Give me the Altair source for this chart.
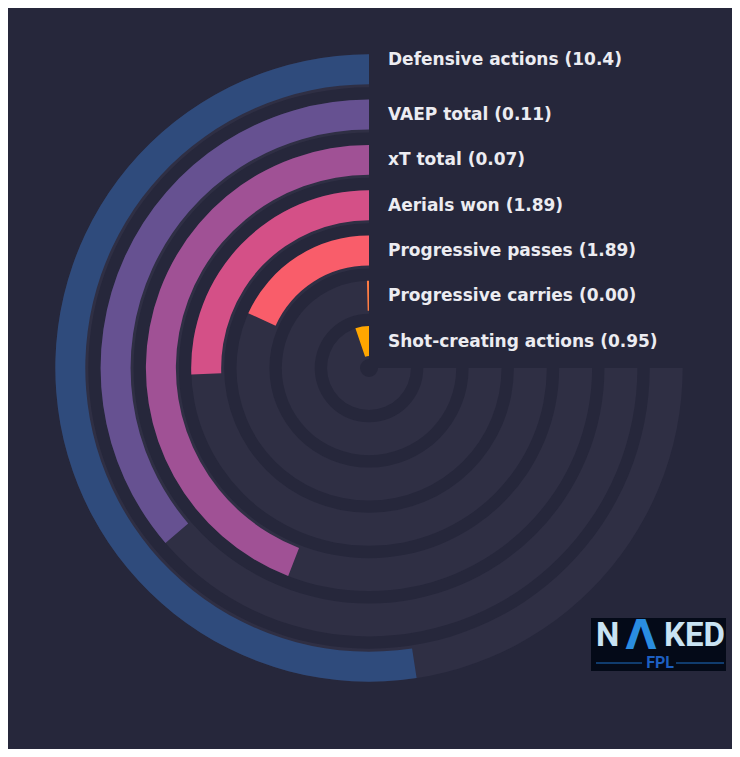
import math

import altair as alt
import pandas as pd

BG = "#26273b"
TRACK = "#2f2f44"
LABEL = "#ececf1"

# rings from the centre outwards
metrics = [
    "Shot-creating actions",
    "Progressive carries",
    "Progressive passes",
    "Aerials won",
    "xT total",
    "VAEP total",
    "Defensive actions",
]
per90 = ["0.95", "0.00", "1.89", "1.89", "0.07", "0.11", "10.4"]
# filled share of the 270 degree track
filled = [0.07, 0.005, 0.243, 0.341, 0.588, 0.484, 0.699]
colors = ["#ffa600", "#ff7c43", "#f95d6a", "#d45087", "#a05195", "#665191", "#2f4b7c"]

df = pd.DataFrame(
    {
        "ring": list(range(len(metrics))),
        "metric": metrics,
        "value": per90,
        "filled": filled,
    }
)
df["text"] = df["metric"] + " (" + df["value"] + ")"

theta_scale = alt.Scale(domain=[0, 1], range=[2 * math.pi, math.pi / 2])
radius_scale = alt.Scale(type="linear", domain=[0, 7], range=[9, 326], zero=False)

# centre of the rings inside the plot area
CX, CY = alt.value(361), alt.value(360)

base = alt.Chart(df).transform_calculate(
    start="0",
    full="1",
    t_in="datum.ring",
    b_in="datum.ring + 0.066",
    r_out="datum.ring + 0.728",
    mid="datum.ring + 0.385",
)

tracks = base.mark_arc(color=TRACK).encode(
    x=CX,
    y=CY,
    theta=alt.Theta("start:Q", scale=theta_scale, stack=None),
    theta2="full:Q",
    radius=alt.Radius("t_in:Q", scale=radius_scale),
    radius2="r_out:Q",
)

bars = base.mark_arc().encode(
    x=CX,
    y=CY,
    theta=alt.Theta("start:Q", scale=theta_scale, stack=None),
    theta2="filled:Q",
    radius=alt.Radius("b_in:Q", scale=radius_scale),
    radius2="r_out:Q",
    color=alt.Color("metric:N", scale=alt.Scale(domain=metrics, range=colors), legend=None),
)

label_style = dict(
    align="left",
    baseline="middle",
    dx=19,
    font="DejaVu Sans",
    fontWeight="bold",
    fontSize=17,
    color=LABEL,
)
label_enc = dict(
    x=CX,
    y=CY,
    theta=alt.Theta("start:Q", scale=theta_scale, stack=None),
    radius=alt.Radius("mid:Q", scale=radius_scale),
    text="text:N",
)
labels = base.transform_filter("datum.ring < 6").mark_text(**label_style).encode(**label_enc)
top_label = (
    base.transform_filter("datum.ring == 6")
    .mark_text(dy=-10, **label_style)
    .encode(**label_enc)
)

# NAKED FPL badge, bottom right
logo_box = alt.Chart().mark_rect(color="#040a18").encode(
    x=alt.value(583), x2=alt.value(718), y=alt.value(610), y2=alt.value(663)
)
logo_font = dict(font="Roboto", fontWeight="bold", baseline="alphabetic", align="left")
logo_n = alt.Chart().mark_text(text="N", fontSize=33, color="#c9e3f3", **logo_font).encode(
    x=alt.value(588), y=alt.value(638)
)
logo_a = alt.Chart().mark_text(
    text="Λ", fontSize=40, color="#2a8de0", font="DejaVu Sans", fontWeight="bold",
    baseline="alphabetic", align="center",
).encode(x=alt.value(633), y=alt.value(641))
logo_ked = alt.Chart().mark_text(text="KED", fontSize=33, color="#c9e3f3", **logo_font).encode(
    x=alt.value(656), y=alt.value(638)
)
logo_fpl = alt.Chart().mark_text(
    text="FPL", fontSize=16, color="#1d5fc2", font="Roboto", fontWeight="bold", align="center"
).encode(x=alt.value(652), y=alt.value(655))
logo_line_l = alt.Chart().mark_rule(color="#1d6fc4", strokeWidth=1).encode(
    x=alt.value(588), x2=alt.value(634), y=alt.value(655)
)
logo_line_r = alt.Chart().mark_rule(color="#1d6fc4", strokeWidth=1).encode(
    x=alt.value(668), x2=alt.value(716), y=alt.value(655)
)

chart = (
    alt.layer(
        tracks, bars, labels, top_label,
        logo_box, logo_n, logo_a, logo_ked, logo_fpl, logo_line_l, logo_line_r,
    )
    .properties(width=724, height=741, padding=0, autosize="none")
    .configure(background=BG)
    .configure_view(stroke=None)
)

chart.save("out.html", embed_options={"renderer": "svg", "actions": False})
